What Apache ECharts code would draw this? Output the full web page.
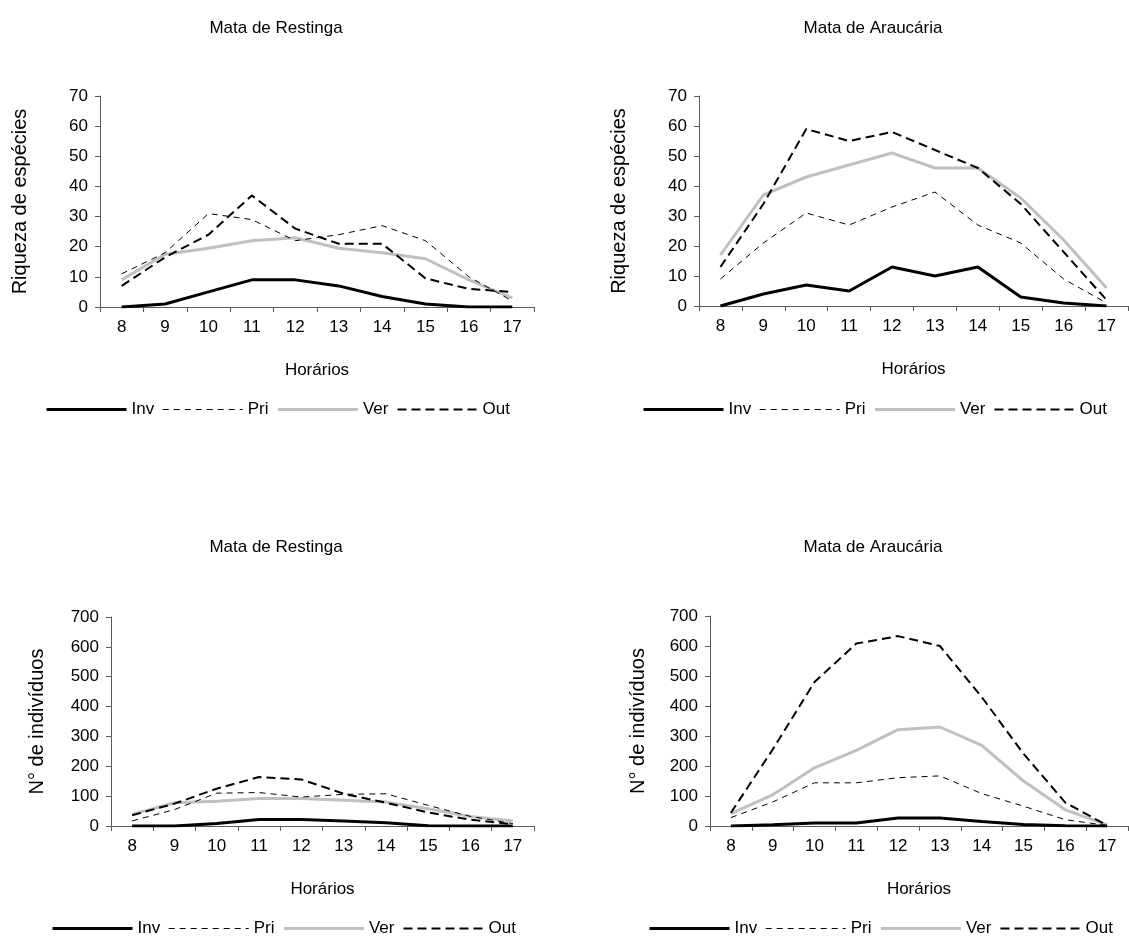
<!DOCTYPE html>
<html>
<head>
<meta charset="utf-8">
<script src="https://cdn.jsdelivr.net/npm/echarts@6/dist/echarts.min.js"></script>
<style>
  html, body { margin: 0; padding: 0; background: #fff; }
  #chart { width: 1129px; height: 936px; }
</style>
</head>
<body>
<div id="chart"></div>
<script>
// Horários de amostragem (eixo de categorias)
const hours = ['8', '9', '10', '11', '12', '13', '14', '15', '16', '17'];
const seasons = ['Inv', 'Pri', 'Ver', 'Out'];

// Riqueza de espécies — Mata de Restinga
const restRiqInv = [0, 1, 5, 9, 9, 7, 3.5, 1, 0, 0];
const restRiqPri = [11, 18, 31, 29, 22, 24, 27, 22, 10, 2];
const restRiqVer = [9, 17.5, 19.5, 22, 23, 19.5, 18, 16, 9, 3];
const restRiqOut = [7, 16.5, 24, 37, 26, 21, 21, 9.5, 6, 5];

// Riqueza de espécies — Mata de Araucária
const arauRiqInv = [0, 4, 7, 5, 13, 10, 13, 3, 1, 0];
const arauRiqPri = [9, 21, 31, 27, 33, 38, 27, 21, 9, 1];
const arauRiqVer = [17, 37, 43, 47, 51, 46, 46, 36, 22, 6];
const arauRiqOut = [13, 34, 59, 55, 58, 52, 46, 34, 18, 2];

// Nº de indivíduos — Mata de Restinga
const restIndInv = [0, 0, 8, 22, 22, 17, 11, 1, 0, 0];
const restIndPri = [17, 55, 110, 112, 97, 106, 108, 69, 32, 8];
const restIndVer = [39, 78, 83, 92, 92, 86, 80, 58, 32, 17];
const restIndOut = [36, 75, 125, 164, 156, 108, 78, 45, 21, 6];

// Nº de indivíduos — Mata de Araucária
const arauIndInv = [0, 4, 10, 10, 27, 27, 15, 5, 1, 0];
const arauIndPri = [28, 80, 144, 144, 161, 167, 108, 66, 21, 2];
const arauIndVer = [41, 104, 194, 252, 321, 330, 269, 150, 54, 4];
const arauIndOut = [44, 255, 480, 608, 633, 600, 430, 241, 78, 2];

const panelTitles = ['Mata de Restinga', 'Mata de Araucária', 'Mata de Restinga', 'Mata de Araucária'];
const yNames = ['Riqueza de espécies', 'Riqueza de espécies', 'N° de indivíduos', 'N° de indivíduos'];
const xName = 'Horários';

const panelData = [
  [restRiqInv, restRiqPri, restRiqVer, restRiqOut],
  [arauRiqInv, arauRiqPri, arauRiqVer, arauRiqOut],
  [restIndInv, restIndPri, restIndVer, restIndOut],
  [arauIndInv, arauIndPri, arauIndVer, arauIndOut]
];

const FONT = "'Liberation Sans', Arial, sans-serif";
const txt = { color: '#000', fontFamily: FONT, fontSize: 17 };
const yNameTxt = { color: '#000', fontFamily: FONT, fontSize: 20 };

// Layout of the four panels
const grids = [
  { left: 100, top: 96, width: 434, height: 211 },
  { left: 699, top: 96, width: 429, height: 210 },
  { left: 111, top: 617, width: 423, height: 209 },
  { left: 710, top: 616, width: 418, height: 210 }
];
const yScale = [
  { max: 70, interval: 10 },
  { max: 70, interval: 10 },
  { max: 700, interval: 100 },
  { max: 700, interval: 100 }
];
const yNameGap = [70, 70, 64, 62];
const titlePos = [{ x: 271, y: 15 }, { x: 868, y: 15 }, { x: 271, y: 534 }, { x: 868, y: 534 }];
const legendPos = [{ x: 40, y: 396 }, { x: 637, y: 396 }, { x: 46, y: 915 }, { x: 643, y: 915 }];

// Line styles per season
const styles = [
  { color: '#000000', width: 3, type: 'solid' },
  { color: '#000000', width: 1, type: [6, 5] },
  { color: '#c0c0c0', width: 3, type: 'solid' },
  { color: '#000000', width: 2, type: [9, 5] }
];

const axisLineStyle = { color: '#5a5a5a', width: 1 };

const option = {
  animation: false,
  backgroundColor: '#ffffff',
  title: panelTitles.map((t, i) => ({
    text: t,
    left: titlePos[i].x,
    top: titlePos[i].y,
    textAlign: 'center',
    textStyle: Object.assign({ fontWeight: 'normal' }, txt)
  })),
  legend: legendPos.map(p => ({
    data: seasons.map((n, i) => ({
      name: n,
      lineStyle: { width: styles[i].width, type: styles[i].type, color: styles[i].color }
    })),
    left: p.x,
    top: p.y,
    itemWidth: 80,
    itemHeight: 14,
    itemGap: 8,
    selectedMode: false,
    // only the line sample is shown, no marker in the middle
    itemStyle: { color: 'rgba(0,0,0,0)', borderColor: 'rgba(0,0,0,0)', borderWidth: 0 },
    textStyle: txt
  })),
  grid: grids.map(g => Object.assign({ outerBoundsMode: 'none', containLabel: false }, g)),
  xAxis: grids.map((g, i) => ({
    type: 'category',
    gridIndex: i,
    data: hours,
    boundaryGap: true,
    name: xName,
    nameLocation: 'middle',
    nameGap: 55,
    nameTextStyle: txt,
    axisLine: { show: true, lineStyle: axisLineStyle },
    axisTick: { show: true, length: 5, alignWithLabel: false, lineStyle: axisLineStyle },
    axisLabel: Object.assign({ margin: 12, interval: 0 }, txt),
    splitLine: { show: false }
  })),
  yAxis: grids.map((g, i) => ({
    type: 'value',
    gridIndex: i,
    min: 0,
    max: yScale[i].max,
    interval: yScale[i].interval,
    name: yNames[i],
    nameLocation: 'middle',
    nameGap: yNameGap[i],
    nameTextStyle: yNameTxt,
    axisLine: { show: true, lineStyle: axisLineStyle },
    axisTick: { show: true, length: 5, lineStyle: axisLineStyle },
    axisLabel: Object.assign({ margin: 12 }, txt),
    splitLine: { show: false }
  })),
  series: []
};

panelData.forEach((sets, p) => {
  sets.forEach((values, s) => {
    option.series.push({
      name: seasons[s],
      type: 'line',
      xAxisIndex: p,
      yAxisIndex: p,
      data: values,
      symbol: 'none',
      smooth: false,
      z: s === 2 ? 2 : 3,
      itemStyle: { color: styles[s].color },
      lineStyle: { color: styles[s].color, width: styles[s].width, type: styles[s].type }
    });
  });
});

const chart = echarts.init(document.getElementById('chart'), null, { renderer: 'canvas' });
chart.setOption(option);
</script>
</body>
</html>
